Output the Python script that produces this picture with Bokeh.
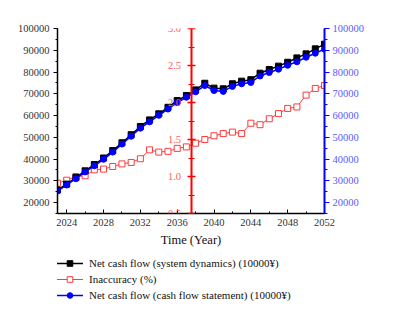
from bokeh.plotting import figure
from bokeh.layouts import column
from bokeh.models import (Range1d, LinearAxis, SingleIntervalTicker,
                          PrintfTickFormatter, Legend, LegendItem)
from bokeh.embed import file_html
from bokeh.resources import INLINE

years = list(range(2023, 2053))
net_sd = [25800, 28500, 31500, 34600, 37500, 40500, 43900, 47500, 51200, 55000,
          58000, 60800, 63800, 66900, 69200, 71800, 74850, 72600, 72300, 74600,
          75800, 76500, 79450, 81150, 82700, 84500, 86500, 88350, 90650, 92800]
net_cf = [25300, 28100, 31000, 34100, 36900, 39900, 43200, 46900, 50500, 54200,
          57100, 60100, 63000, 66000, 68400, 70900, 73800, 71500, 71100, 73400,
          74600, 75200, 78200, 79800, 81300, 83100, 84700, 86800, 88650, 90500]
inacc = [0.91, 0.95, 1.00, 1.01, 1.09, 1.10, 1.135, 1.17, 1.19, 1.24,
         1.36, 1.33, 1.34, 1.38, 1.40, 1.45, 1.50, 1.55, 1.58, 1.60,
         1.58, 1.72, 1.70, 1.78, 1.85, 1.92, 1.94, 2.10, 2.19, 2.23]

label_sd = "Net cash flow (system dynamics) (10000¥)"
label_in = "Inaccuracy (%)"
label_cf = "Net cash flow (cash flow statement) (10000¥)"

FONT = "Liberation Serif"


def add_series(fig):
    rl = fig.line(years, inacc, y_range_name="red", line_color="#ff3b3b", line_width=1)
    rs = fig.scatter(years, inacc, y_range_name="red", marker="square", size=6,
                     fill_color="white", line_color="#ff3b3b", line_width=1)
    kl = fig.line(years, net_sd, line_color="black", line_width=1.5)
    ks = fig.scatter(years, net_sd, marker="square", size=6, fill_color="black",
                     line_color="black")
    bl = fig.line(years, net_cf, y_range_name="blue", line_color="#0000ff", line_width=1.5)
    bs = fig.scatter(years, net_cf, y_range_name="blue", marker="circle", size=6,
                     fill_color="#0000ff", line_color="#0000ff")
    return (kl, ks), (rl, rs), (bl, bs)


p = figure(frame_width=267, frame_height=185,
           x_range=Range1d(2023, 2052), y_range=Range1d(15000, 100000),
           output_backend="svg", toolbar_location=None,
           min_border_left=57, min_border_top=28, min_border_bottom=0,
           min_border_right=10, outline_line_color=None)
p.extra_y_ranges = {"red": Range1d(0.5, 3.0), "blue": Range1d(15000, 100000)}
p.xgrid.visible = False
p.ygrid.visible = False

# bottom axis
xa = p.xaxis[0]
xa.ticker = SingleIntervalTicker(interval=4, num_minor_ticks=2)
xa.axis_line_color = "black"
xa.axis_line_width = 1.5
xa.major_tick_in = 4
xa.major_tick_out = 0
xa.minor_tick_in = 2
xa.minor_tick_out = 0
xa.major_label_text_font = FONT
xa.major_label_text_font_size = "10.5px"
xa.major_label_text_color = "#333333"
xa.major_label_standoff = 5
xa.axis_label = "Time (Year)"
xa.axis_label_text_font = FONT
xa.axis_label_text_font_size = "12.5px"
xa.axis_label_text_font_style = "normal"
xa.axis_label_text_color = "#111111"
xa.axis_label_standoff = 4

# left axis
ya = p.yaxis[0]
ya.ticker = SingleIntervalTicker(interval=10000, num_minor_ticks=2)
ya.formatter = PrintfTickFormatter(format="%d")
ya.axis_line_color = "black"
ya.axis_line_width = 1.5
ya.major_tick_out = 4
ya.major_tick_in = 0
ya.minor_tick_out = 2
ya.minor_tick_in = 0
ya.major_label_text_font = FONT
ya.major_label_text_font_size = "10.5px"
ya.major_label_text_color = "#333333"
ya.major_label_standoff = 4

# red axis in the middle
ra = LinearAxis(y_range_name="red", fixed_location=2037.5,
                ticker=SingleIntervalTicker(interval=0.5, num_minor_ticks=2),
                formatter=PrintfTickFormatter(format="%.1f"))
ra.axis_line_color = "#ff0000"
ra.axis_line_width = 2
ra.major_tick_line_color = "#ff0000"
ra.minor_tick_line_color = "#ff0000"
ra.major_tick_line_width = 1.5
ra.major_tick_in = 4
ra.major_tick_out = 4
ra.minor_tick_in = 3
ra.minor_tick_out = 3
ra.major_label_text_font = FONT
ra.major_label_text_font_size = "10.5px"
ra.major_label_text_color = "#ff5a5a"
ra.major_label_standoff = 6
p.add_layout(ra, "left")

# right blue axis
ba = LinearAxis(y_range_name="blue",
                ticker=SingleIntervalTicker(interval=10000, num_minor_ticks=2),
                formatter=PrintfTickFormatter(format="%d"))
ba.axis_line_color = "#0000ff"
ba.axis_line_width = 2
ba.major_tick_line_color = "#0000ff"
ba.minor_tick_line_color = "#0000ff"
ba.major_tick_out = 5
ba.major_tick_in = 0
ba.minor_tick_out = 3
ba.minor_tick_in = 0
ba.major_label_text_font = FONT
ba.major_label_text_font_size = "10.5px"
ba.major_label_text_color = "#5a5aff"
ba.major_label_standoff = 3
p.add_layout(ba, "right")

add_series(p)

# legend strip (same series; the data lie outside this strip's ranges)
lg = figure(width=404, height=58, x_range=Range1d(0, 1), y_range=Range1d(0, 1),
            output_backend="svg", toolbar_location=None, x_axis_type=None,
            y_axis_type=None, min_border=0, outline_line_color=None)
lg.extra_y_ranges = {"red": Range1d(0, 0.01), "blue": Range1d(0, 1)}
lg.xgrid.visible = False
lg.ygrid.visible = False
sd_r, in_r, cf_r = add_series(lg)

legend = Legend(items=[
    LegendItem(label=label_sd, renderers=list(sd_r)),
    LegendItem(label=label_in, renderers=list(in_r)),
    LegendItem(label=label_cf, renderers=list(cf_r)),
], location=(-1, 5))
legend.padding = 0
legend.margin = 0
legend.spacing = 2
legend.glyph_width = 27
legend.glyph_height = 14
legend.label_height = 14
legend.label_standoff = 6
legend.label_text_font = FONT
legend.label_text_font_size = "11px"
legend.label_text_color = "#111111"
legend.border_line_alpha = 0
legend.background_fill_alpha = 0
lg.add_layout(legend, "center")

layout = column(p, lg, spacing=0)
open("out.html", "w").write(file_html(layout, INLINE))
